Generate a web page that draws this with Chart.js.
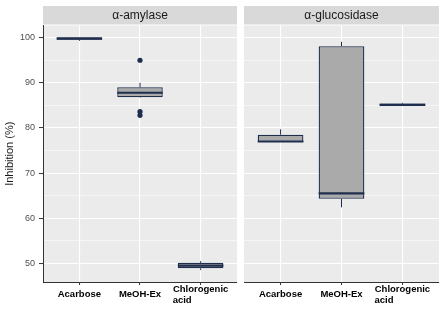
<!DOCTYPE html>
<html>
<head>
<meta charset="utf-8">
<script src="https://cdn.jsdelivr.net/npm/chart.js@4.4.1/dist/chart.umd.min.js"></script>
<style>
  html, body { margin: 0; padding: 0; background: #ffffff; }
  #wrap { position: relative; width: 445px; height: 318px; }
  .panel { position: absolute; top: 0; }
</style>
</head>
<body>
<div id="wrap">
  <div class="panel" style="left:0px"><canvas id="amylase" width="241" height="318"></canvas></div>
  <div class="panel" style="left:241px"><canvas id="glucosidase" width="204" height="318"></canvas></div>
</div>
<script>
// categories and panel names
const categories = ['Acarbose', 'MeOH-Ex', ['Chlorogenic', 'acid              ']]
const panelTitles = ['α-amylase', 'α-glucosidase']

// α-amylase box stats
const amyMin = [99.3, 86.7, 48.5]
const amyQ1 = [99.55, 86.8, 48.9]
const amyMedian = [99.8, 87.8, 49.5]
const amyQ3 = [100.1, 89.0, 50.1]
const amyMax = [100.1, 90.0, 50.5]
const amyOutliers = [[], [95.0, 83.6, 82.8], []]

// α-glucosidase box stats
const gluMin = [76.9, 62.4, 84.9]
const gluQ1 = [76.9, 64.3, 84.9]
const gluMedian = [77.0, 65.5, 85.1]
const gluQ3 = [78.5, 98.1, 85.4]
const gluMax = [79.7, 99.1, 85.6]
const gluOutliers = [[], [], []]

// y axis
const yTicks = [50, 60, 70, 80, 90, 100]
const yMin = 45.86
const yMax = 102.7

const navy = '#1F2E4D'
const boxFill = '#AAAAAA'
const font = '"Liberation Sans", Arial, sans-serif'

Chart.defaults.font.family = font

const panelPlugin = {
    id: 'panelStrip',
    beforeDraw(chart, args, opts) {
        const {ctx, chartArea: a} = chart
        ctx.save()
        ctx.fillStyle = '#EBEBEB'
        ctx.fillRect(a.left, a.top, a.right - a.left, a.bottom - a.top)
        ctx.fillStyle = '#D9D9D9'
        ctx.fillRect(a.left, 6, a.right - a.left, a.top - 7)
        ctx.fillStyle = '#1A1A1A'
        ctx.font = '12px ' + font
        ctx.textAlign = 'center'
        ctx.textBaseline = 'middle'
        ctx.fillText(opts.text, (a.left + a.right) / 2, (6 + a.top - 1) / 2 + 0.5)
        ctx.restore()
    }
}

// whiskers + median, drawn from the stats through the chart's scales
const boxPlugin = {
    id: 'boxStats',
    afterDatasetsDraw(chart, args, opts) {
        const {ctx, scales: {x, y}} = chart
        const bars = chart.getDatasetMeta(0).data
        const seg = (x1, y1, x2, y2) => {
            ctx.beginPath()
            ctx.moveTo(x1, y1)
            ctx.lineTo(x2, y2)
            ctx.stroke()
        }
        ctx.save()
        ctx.strokeStyle = navy
        opts.median.forEach((m, i) => {
            const cx = x.getPixelForValue(i + 1)
            const half = bars[i].width / 2
            ctx.lineWidth = 1
            seg(cx, y.getPixelForValue(opts.q3[i]), cx, y.getPixelForValue(opts.max[i]))
            seg(cx, y.getPixelForValue(opts.q1[i]), cx, y.getPixelForValue(opts.min[i]))
            ctx.lineWidth = 2.2
            const my = y.getPixelForValue(m)
            seg(cx - half, my, cx + half, my)
        })
        ctx.restore()
    }
}

function makePanel(canvasId, title, stats, showY) {
    const boxes = stats.q1.map((q, i) => ({x: i + 1, y: [q, stats.q3[i]]}))
    const points = stats.outliers.flatMap((vals, i) => vals.map(v => ({x: i + 1, y: v})))

    return new Chart(document.getElementById(canvasId), {
        type: 'bar',
        data: {
            datasets: [{
                data: boxes,
                backgroundColor: boxFill,
                borderColor: navy,
                borderWidth: 1.3,
                borderSkipped: false,
                barPercentage: 0.75,
                categoryPercentage: 1.0,
                order: 2
            }, {
                type: 'scatter',
                data: points,
                backgroundColor: navy,
                borderWidth: 0,
                pointRadius: 2.6,
                order: 1
            }]
        },
        options: {
            responsive: false,
            animation: false,
            layout: {padding: {top: 25.5, right: showY ? 3 : 6, left: 0, bottom: 0}},
            plugins: {
                legend: {display: false},
                tooltip: {enabled: false},
                panelStrip: {text: title},
                boxStats: stats
            },
            scales: {
                x: {
                    type: 'linear',
                    min: 0.4,
                    max: 3.6,
                    offset: false,
                    afterFit: (s) => { s.height = 36 },
                    border: {display: true, color: '#333333', width: 1},
                    grid: {offset: false, color: '#FFFFFF', lineWidth: 1.1, tickColor: '#333333', tickLength: 3, tickWidth: 1},
                    ticks: {
                        stepSize: 1,
                        includeBounds: false,
                        autoSkip: false,
                        maxRotation: 0,
                        padding: 4,
                        crossAlign: 'center',
                        color: '#000000',
                        font: {size: 9.5, weight: 'bold', lineHeight: 1.15},
                        callback: (v) => categories[v - 1]
                    }
                },
                y: {
                    min: yMin,
                    max: yMax,
                    afterFit: (s) => { s.width = showY ? 43 : 3 },
                    border: {display: showY, color: '#333333', width: 1},
                    grid: {
                        color: '#FFFFFF',
                        lineWidth: (c) => yTicks.includes(c.tick.value) ? 1.1 : 0.55,
                        drawTicks: showY,
                        tickLength: 4,
                        tickWidth: 1,
                        tickColor: (c) => yTicks.includes(c.tick.value) ? '#333333' : 'rgba(0,0,0,0)'
                    },
                    ticks: {
                        display: showY,
                        stepSize: 5,
                        includeBounds: false,
                        padding: 4,
                        color: '#4D4D4D',
                        font: {size: 9},
                        callback: (v) => yTicks.includes(v) ? String(v) : ''
                    },
                    title: {
                        display: showY,
                        text: 'Inhibition (%)',
                        color: '#1A1A1A',
                        font: {size: 11},
                        padding: {top: 3, bottom: 0}
                    }
                }
            }
        },
        plugins: [panelPlugin, boxPlugin]
    })
}

makePanel('amylase', panelTitles[0], {
    min: amyMin, q1: amyQ1, median: amyMedian, q3: amyQ3, max: amyMax, outliers: amyOutliers
}, true)

makePanel('glucosidase', panelTitles[1], {
    min: gluMin, q1: gluQ1, median: gluMedian, q3: gluQ3, max: gluMax, outliers: gluOutliers
}, false)
</script>
</body>
</html>
